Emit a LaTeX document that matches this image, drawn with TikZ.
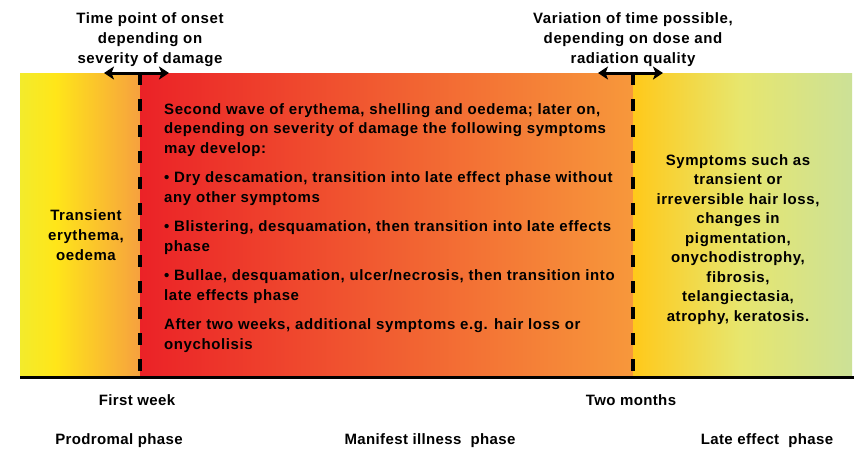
\documentclass[tikz,border=0pt]{standalone}
\usepackage{fontspec}
\setmainfont{Liberation Sans}
\newfontfamily\widesans[LetterSpace=4]{Liberation Sans}
\newfontfamily\axissans[LetterSpace=2.5]{Liberation Sans}
\usetikzlibrary{arrows.meta}

% colour stops of the three phase bands
\definecolor{proA}{HTML}{F3EB2C}
\definecolor{proB}{HTML}{FFE619}
\definecolor{proC}{HTML}{F6A03F}
\definecolor{manA}{HTML}{EB2227}
\definecolor{manB}{HTML}{F7983B}
\definecolor{lateA}{HTML}{FFC91A}
\definecolor{lateB}{HTML}{E7E66E}
\definecolor{lateC}{HTML}{CCE197}

\tikzset{
  txt/.style={inner sep=0pt, font=\widesans\bfseries\fontsize{15}{20}\selectfont},
  bodytxt/.style={inner sep=0pt, align=left, font=\widesans\bfseries\fontsize{15}{19.5}\selectfont},
  axislbl/.style={inner sep=0pt, font=\axissans\bfseries\fontsize{15}{18}\selectfont},
  border/.style={line width=4pt, dash pattern=on 12pt off 14pt},
  twoway/.style={line width=3pt, {Stealth[length=10pt,width=13pt,inset=2.5pt]}-{Stealth[length=10pt,width=13pt,inset=2.5pt]}},
  timeline/.style={line width=3pt},
}

\begin{document}
\begin{tikzpicture}[x=1pt,y=-1pt]
\useasboundingbox (0,0) rectangle (856,450);
\fill[white] (0,0) rectangle (856,450);

% phase bands
\shade[left color=proA, right color=proB] (20,73) rectangle (55.5,375);
\shade[left color=proB, right color=proC] (55,73) rectangle (140.5,375);
\shade[left color=manA, right color=manB] (140,73) rectangle (633.5,375);
\shade[left color=lateA, right color=lateB] (633,73) rectangle (740.5,375);
\shade[left color=lateB, right color=lateC] (740,73) rectangle (852,375);

% phase borders
\coordinate (onsetTop) at (140,73);
\coordinate (onsetBot) at (140,377);
\coordinate (lateTop) at (633,73);
\coordinate (lateBot) at (633,377);
\draw[border] (onsetTop) -- (onsetBot);
\draw[border] (lateTop) -- (lateBot);

% shift arrows above the borders
\coordinate (onsetL) at (104,73);
\coordinate (onsetR) at (169,73);
\coordinate (lateL) at (598,73);
\coordinate (lateR) at (663,73);
\draw[twoway] (onsetL) -- (onsetR);
\draw[twoway] (lateL) -- (lateR);

% time axis
\coordinate (axisL) at (20,377);
\coordinate (axisR) at (854,377);
\draw[timeline] (axisL) -- (axisR);

% notes above the borders (anchored at the baseline of the last line)
\node[txt, align=center, anchor=base] (onsetNote) at (150,63)
  {Time point of onset\\depending on\\severity of damage};
\node[txt, align=center, anchor=base] (lateNote) at (633,63)
  {Variation of time possible,\\depending on dose and\\radiation quality};

% prodromal phase
\node[txt, align=center, anchor=base] (prodText) at (86,260)
  {Transient\\erythema,\\oedema};

% manifest illness phase
\node[bodytxt, anchor=base west] (manText) at (164,349)
  {Second wave of erythema, shelling and oedema; later on,\\
   depending on severity of damage the following symptoms\\
   may develop:\\[10pt]
   \textbullet\ Dry descamation, transition into late effect phase without\\
   any other symptoms\\[10pt]
   \textbullet\ Blistering, desquamation, then transition into late effects\\
   phase\\[10pt]
   \textbullet\ Bullae, desquamation, ulcer/necrosis, then transition into\\
   late effects phase\\[10pt]
   After two weeks, additional symptoms e.g. hair loss or\\
   onycholisis};

% late effect phase
\node[bodytxt, align=center, anchor=base] (lateText) at (738,321)
  {Symptoms such as\\transient or\\irreversible hair loss,\\changes in\\pigmentation,\\
   onychodistrophy,\\fibrosis,\\telangiectasia,\\atrophy, keratosis.};

% axis labels
\node[axislbl, anchor=base] (week) at (137,405) {First week};
\node[axislbl, anchor=base] (months) at (631,405) {Two months};
\node[axislbl, anchor=base] (prodPhase) at (119,444) {Prodromal phase};
\node[axislbl, anchor=base] (manPhase) at (430,444) {Manifest illness\ \ phase};
\node[axislbl, anchor=base] (latePhase) at (767,444) {Late effect\ \ phase};
\end{tikzpicture}
\end{document}
